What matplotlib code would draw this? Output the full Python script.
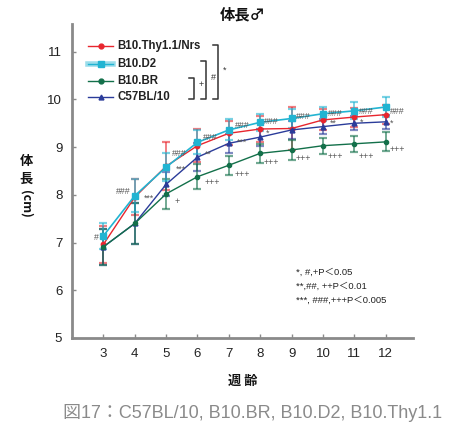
import matplotlib
matplotlib.use("Agg")
import matplotlib.pyplot as plt
from matplotlib.lines import Line2D

plt.rcParams['font.family'] = ['Liberation Sans', 'Noto Sans CJK JP', 'DejaVu Sans']
JP = ['Noto Sans CJK JP', 'DejaVu Sans']
MIX = ['Liberation Sans', 'Noto Sans CJK JP', 'DejaVu Sans']

weeks = [3, 4, 5, 6, 7, 8, 9, 10, 11, 12]

series_names = ["B10.Thy1.1/Nrs", "B10.D2", "B10.BR", "C57BL/10"]

thy_mean = [6.96, 7.95, 8.60, 9.03, 9.29, 9.38, 9.39, 9.57, 9.63, 9.68]
thy_sd   = [0.38, 0.38, 0.50, 0.35, 0.25, 0.28, 0.46, 0.22, 0.20, 0.20]
d2_mean  = [7.14, 7.98, 8.58, 9.10, 9.36, 9.52, 9.60, 9.70, 9.76, 9.84]
d2_sd    = [0.28, 0.35, 0.30, 0.25, 0.22, 0.18, 0.20, 0.15, 0.18, 0.20]
br_mean  = [6.91, 7.40, 8.02, 8.38, 8.62, 8.87, 8.94, 9.03, 9.07, 9.11]
br_sd    = [0.37, 0.43, 0.32, 0.26, 0.20, 0.20, 0.20, 0.17, 0.17, 0.20]
c57_mean = [6.91, 7.40, 8.22, 8.79, 9.08, 9.21, 9.36, 9.43, 9.50, 9.53]
c57_sd   = [0.37, 0.43, 0.25, 0.30, 0.20, 0.18, 0.18, 0.15, 0.15, 0.15]

# significance marks: (week, text) per comparison
d2_marks  = [(3, "#"), (4, "###"), (5, "###"), (6, "###"), (7, "###"), (8, "###"),
             (9, "###"), (10, "###"), (11, "###"), (12, "###")]
c57_marks = [(4, "***"), (5, "***"), (6, "**"), (7, "***"), (8, "*"),
             (10, "**"), (11, "*"), (12, "*")]
br_marks  = [(5, "+"), (6, "+++"), (7, "+++"), (8, "+++"), (9, "+++"),
             (10, "+++"), (11, "+++"), (12, "+++")]

# label offsets in pixels (dx right, dy down)
d2_off  = [(-7, 2), (-11, -4), (13, -14), (13, -5), (13, -4), (11, -1),
           (12, -2), (12, 0), (12, 1), (12, 4)]
c57_off = [(14, -25), (15, -15), (11, -3), (13, -1), (7, -4), (10, -3), (7, -1), (6, 1)]
br_off  = [(11, 8), (15, 6), (13, 9), (11, 9), (12, 9), (12, 11), (12, 13), (12, 8)]

legend_notes = ["*, #,+P\uff1c0.05", "**,##, ++P\uff1c0.01", "***, ###,+++P\uff1c0.005"]

W, H = 454, 434
fig = plt.figure(figsize=(W / 100, H / 100), dpi=100)
ax = fig.add_axes([72 / W, (H - 338) / H, (413 - 72) / W, (338 - 24) / H])

red, cyan, green, blue = "#e8262e", "#22b4d2", "#13704a", "#2b3c9a"

styles = [
    (thy_mean, thy_sd, red, "o", 3.2, 1.0),
    (c57_mean, c57_sd, blue, "^", 3.5, 1.0),
    (br_mean, br_sd, green, "o", 3.0, 1.0),
    (d2_mean, d2_sd, cyan, "s", 5.0, 1.2),
]
for mean, sd, col, mk, ms, lw in styles:
    ax.errorbar(weeks, mean, yerr=sd, fmt="none", ecolor=col, elinewidth=1.4,
                capsize=3.2, capthick=1.6, alpha=0.6, zorder=2)
for mean, sd, col, mk, ms, lw in styles:
    ax.plot(weeks, mean, color=col, marker=mk, markersize=ms, lw=lw, zorder=3)

ax.set_xlim(2.0, 12.87)
ax.set_ylim(5, 11.58)
ax.set_xticks(weeks)
ax.set_yticks([5, 6, 7, 8, 9, 10, 11])
for s in ["top", "right"]:
    ax.spines[s].set_visible(False)
for s in ["left", "bottom"]:
    ax.spines[s].set_color("#8a8a8a")
    ax.spines[s].set_linewidth(2.0)
ax.tick_params(direction="in", length=3, width=1, color="#8a8a8a",
               labelsize=9.5, labelcolor="#222222", pad=7)

# significance labels placed relative to each mean
def place(marks, offs, mean):
    for (wk, txt), (dx, dy) in zip(marks, offs):
        i = weeks.index(wk)
        ax.annotate(txt, (wk, mean[i]), xytext=(dx * 0.72, -dy * 0.72),
                    textcoords="offset points", ha="center", va="center",
                    fontsize=6.3, color="#555555", zorder=5)

place(d2_marks, d2_off, d2_mean)
place(c57_marks, c57_off, c57_mean)
place(br_marks, br_off, br_mean)

# legend built by hand in pixel space
def fx(px):
    return px / W

def fy(py):
    return 1 - py / H

leg_rows = [(46, red, "o", 3.5, 1.0), (64, cyan, "s", 5.0, 1.0),
            (81, green, "o", 3.5, 1.0), (97, blue, "^", 3.5, 1.0)]
for (py, col, mk, ms, lw), name in zip(leg_rows, series_names):
    fig.add_artist(Line2D([fx(88), fx(113)], [fy(py), fy(py)], color=col, lw=lw))
    if col == cyan:
        fig.add_artist(Line2D([fx(88), fx(113)], [fy(py), fy(py)], color=col, lw=4, alpha=0.45))
    fig.add_artist(Line2D([fx(100.5)], [fy(py)], color=col, marker=mk, markersize=ms, lw=0))
    fig.text(fx(117), fy(py), name, fontsize=8.3, fontweight="bold", color="#222222",
             va="center", ha="left")

# comparison brackets
def bracket(x, y0, y1, sym, sx, sy):
    col = "#333333"
    fig.add_artist(Line2D([fx(x - 5), fx(x), fx(x), fx(x - 5)],
                          [fy(y0), fy(y0), fy(y1), fy(y1)], color=col, lw=1.1))
    fig.text(fx(sx), fy(sy), sym, fontsize=6.5, color=col, ha="center", va="center")

bracket(194, 78, 99, "+", 201, 85)
bracket(206, 61, 99, "#", 213, 78)
bracket(218, 45, 99, "*", 225, 70)

# significance key
for k, line in enumerate(legend_notes):
    fig.text(fx(296), fy(272 + 14 * k), line, fontsize=6.8, color="#222222",
             va="center", ha="left", family=MIX)

# titles and axis labels
fig.text(fx(243), fy(14), "体長♂", fontsize=11, fontweight="bold", ha="center",
         va="center", family=JP, color="#111111")
fig.text(fx(243), fy(381), "週 齢", fontsize=9.5, fontweight="bold", ha="center",
         va="center", family=JP, color="#111111")
fig.text(fx(26), fy(161), "体", fontsize=9.5, fontweight="bold", ha="center", va="center",
         family=JP, color="#111111")
fig.text(fx(26), fy(179), "長", fontsize=9.5, fontweight="bold", ha="center", va="center",
         family=JP, color="#111111")
fig.text(fx(26), fy(204), "(cm)", fontsize=9, fontweight="bold", ha="center", va="center",
         rotation=-90, family=JP, color="#111111")

fig.text(fx(63), fy(413), "図17：C57BL/10, B10.BR, B10.D2, B10.Thy1.1", fontsize=13,
         ha="left", va="center", family=MIX, color="#8a8a8a")

fig.savefig("out.png", dpi=100)
